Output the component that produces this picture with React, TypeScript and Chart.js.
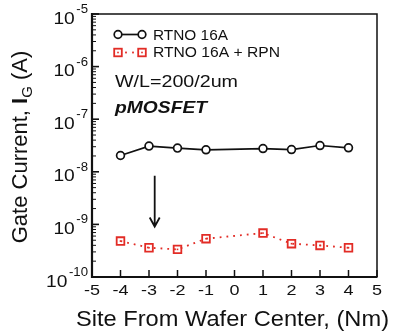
import React, { useEffect, useRef } from "react";
import { Chart, registerables } from "chart.js";

Chart.register(...registerables);

const sites = [-4, -3, -2, -1, 1, 2, 3, 4];
const rtno16A = [2.04e-8, 3.08e-8, 2.82e-8, 2.62e-8, 2.77e-8, 2.65e-8, 3.16e-8, 2.86e-8];
const rtno16ARpn = [4.82e-10, 3.6e-10, 3.35e-10, 5.35e-10, 6.84e-10, 4.3e-10, 3.98e-10, 3.6e-10];
const xTicks = [-5, -4, -3, -2, -1, 0, 1, 2, 3, 4, 5];
const yDecades = [-10, -9, -8, -7, -6, -5];
const seriesNames = ["RTNO 16A", "RTNO 16A + RPN"];
const arrowX = -2.8;
const arrowFrom = 8.4e-9;
const arrowTo = 9.1e-10;

const RED = "rgb(226,44,38)";
const FONT = "'Liberation Sans', Arial, Helvetica, sans-serif";

function drawText(
  ctx: CanvasRenderingContext2D,
  s: string,
  x: number,
  y: number,
  font: string,
  align: "left" | "right" | "center",
  sx: number
) {
  ctx.save();
  ctx.font = font;
  const w = ctx.measureText(s).width * sx;
  let left = x;
  if (align === "right") left = x - w;
  else if (align === "center") left = x - w / 2;
  ctx.translate(left, y);
  ctx.scale(sx, 1);
  ctx.textAlign = "left";
  ctx.textBaseline = "alphabetic";
  ctx.fillText(s, 0, 0);
  ctx.restore();
  return w;
}

function measure(ctx: CanvasRenderingContext2D, s: string, font: string, sx: number) {
  ctx.save();
  ctx.font = font;
  const w = ctx.measureText(s).width * sx;
  ctx.restore();
  return w;
}

function drawFit(
  ctx: CanvasRenderingContext2D,
  s: string,
  x: number,
  y: number,
  font: string,
  targetW: number
) {
  const w = measure(ctx, s, font, 1);
  drawText(ctx, s, x, y, font, "left", targetW / w);
}

const decor = {
  id: "decor",
  afterDraw(chart: any) {
    const ctx: CanvasRenderingContext2D = chart.ctx;
    const xs = chart.scales.x;
    const ys = chart.scales.y;
    const a = chart.chartArea;
    ctx.save();
    ctx.fillStyle = "#111";
    ctx.strokeStyle = "#111";

    // frame
    ctx.lineWidth = 1.5;
    ctx.beginPath();
    ctx.moveTo(a.left, a.top);
    ctx.lineTo(a.right, a.top);
    ctx.lineTo(a.right, a.bottom);
    ctx.stroke();
    ctx.lineWidth = 2.2;
    ctx.beginPath();
    ctx.moveTo(a.left, a.top - 1);
    ctx.lineTo(a.left, a.bottom);
    ctx.lineTo(a.right + 0.5, a.bottom);
    ctx.stroke();

    // x ticks
    ctx.lineWidth = 1.5;
    xTicks.forEach((t) => {
      const px = xs.getPixelForValue(t);
      ctx.beginPath();
      ctx.moveTo(px, a.bottom);
      ctx.lineTo(px, a.bottom - 7);
      ctx.stroke();
      drawText(ctx, String(t), px, a.bottom + 18, `15px ${FONT}`, "center", 1.2);
    });

    // y ticks (log, major + minor)
    yDecades.forEach((e, i) => {
      const py = ys.getPixelForValue(Math.pow(10, e));
      ctx.lineWidth = 1.6;
      ctx.beginPath();
      ctx.moveTo(a.left, py);
      ctx.lineTo(a.left + 7, py);
      ctx.stroke();
      if (i < yDecades.length - 1) {
        ctx.lineWidth = 1;
        for (let m = 2; m <= 9; m++) {
          const pm = ys.getPixelForValue(m * Math.pow(10, e));
          ctx.beginPath();
          ctx.moveTo(a.left, pm);
          ctx.lineTo(a.left + 4, pm);
          ctx.stroke();
        }
      }
      const supFont = `12px ${FONT}`;
      const supW = measure(ctx, String(e), supFont, 1.1);
      const supLeft = a.left - 4 - supW;
      drawText(ctx, String(e), supLeft, py - 1, supFont, "left", 1.1);
      drawText(ctx, "10", supLeft - 1.5, py + 9.5, `16px ${FONT}`, "right", 1.2);
    });

    // x title
    drawFit(ctx, "Site From Wafer Center, (Nm)", 76, 326, `22px ${FONT}`, 313);

    // y title (rotated)
    ctx.save();
    ctx.translate(27, 147);
    ctx.rotate(-Math.PI / 2);
    const parts: [string, string, number][] = [
      ["Gate Current, ", `22px ${FONT}`, 0],
      ["I", `bold 22px ${FONT}`, 0],
      ["G", `15px ${FONT}`, 5],
      [" (A)", `22px ${FONT}`, 0],
    ];
    let total = 0;
    parts.forEach(([s, f]) => {
      ctx.font = f;
      total += ctx.measureText(s).width;
    });
    let cx = -total / 2;
    ctx.textBaseline = "alphabetic";
    ctx.textAlign = "left";
    parts.forEach(([s, f, dy]) => {
      ctx.font = f;
      ctx.fillText(s, cx, dy);
      cx += ctx.measureText(s).width;
    });
    ctx.restore();

    // legend
    ctx.lineWidth = 1.7;
    ctx.strokeStyle = "#111";
    ctx.beginPath();
    ctx.moveTo(118, 34.5);
    ctx.lineTo(142, 34.5);
    ctx.stroke();
    [118, 142].forEach((px) => {
      ctx.beginPath();
      ctx.arc(px, 34.5, 3.8, 0, Math.PI * 2);
      ctx.fillStyle = "#fff";
      ctx.fill();
      ctx.stroke();
    });
    ctx.fillStyle = "#111";
    drawFit(ctx, seriesNames[0], 153, 40, `14px ${FONT}`, 75);

    ctx.strokeStyle = RED;
    ctx.fillStyle = RED;
    [118, 142].forEach((px) => {
      ctx.lineWidth = 1.8;
      ctx.strokeRect(px - 3.8, 52.5 - 3.8, 7.6, 7.6);
      ctx.fillRect(px - 0.8, 52.5 - 0.8, 1.6, 1.6);
    });
    [126, 133].forEach((px) => ctx.fillRect(px - 0.9, 51.6, 1.8, 1.8));
    ctx.fillStyle = "#111";
    drawFit(ctx, seriesNames[1], 153, 57, `14px ${FONT}`, 127);

    // annotations
    drawFit(ctx, "W/L=200/2um", 115, 87, `16px ${FONT}`, 123);
    drawFit(ctx, "pMOSFET", 115, 113, `italic bold 17px ${FONT}`, 92);

    // center dots of squares
    const meta = chart.getDatasetMeta(1);
    ctx.fillStyle = RED;
    meta.data.forEach((p: any) => {
      ctx.fillRect(p.x - 0.8, p.y - 0.8, 1.6, 1.6);
    });

    // arrow
    const ax = xs.getPixelForValue(arrowX);
    const y1 = ys.getPixelForValue(arrowFrom);
    const y2 = ys.getPixelForValue(arrowTo);
    ctx.strokeStyle = "#111";
    ctx.lineWidth = 1.8;
    ctx.beginPath();
    ctx.moveTo(ax, y1);
    ctx.lineTo(ax, y2);
    ctx.moveTo(ax - 5, y2 - 9);
    ctx.lineTo(ax, y2);
    ctx.lineTo(ax + 5, y2 - 9);
    ctx.stroke();

    ctx.restore();
  },
};

export default function App() {
  const ref = useRef<HTMLCanvasElement | null>(null);
  useEffect(() => {
    document.body.style.margin = "0";
    if (!ref.current) return;
    const chart = new Chart(ref.current, {
      type: "line",
      data: {
        datasets: [
          {
            label: seriesNames[0],
            data: sites.map((s, i) => ({ x: s, y: rtno16A[i] })),
            borderColor: "#111",
            borderWidth: 1.7,
            pointStyle: "circle",
            pointRadius: 3.9,
            pointBorderWidth: 1.7,
            pointBackgroundColor: "#fff",
            pointBorderColor: "#111",
            fill: false,
            tension: 0,
          },
          {
            label: seriesNames[1],
            data: sites.map((s, i) => ({ x: s, y: rtno16ARpn[i] })),
            borderColor: RED,
            borderWidth: 1.8,
            borderDash: [1.8, 5],
            pointStyle: "rect",
            pointRadius: 5.4,
            pointBorderWidth: 1.8,
            pointBackgroundColor: "rgba(255,255,255,0)",
            pointBorderColor: RED,
            fill: false,
            tension: 0,
          },
        ],
      },
      options: {
        responsive: false,
        animation: false,
        layout: { padding: { left: 92, right: 18, top: 14, bottom: 56 } },
        plugins: { legend: { display: false }, tooltip: { enabled: false } },
        scales: {
          x: { type: "linear", min: -5, max: 5, display: false },
          y: { type: "logarithmic", min: 1e-10, max: 1e-5, display: false },
        },
      },
      plugins: [decor],
    });
    return () => chart.destroy();
  }, []);
  return (
    <div style={{ position: "fixed", left: 0, top: 0, width: 395, height: 333, background: "#fff" }}>
      <canvas ref={ref} width={395} height={333} />
    </div>
  );
}
